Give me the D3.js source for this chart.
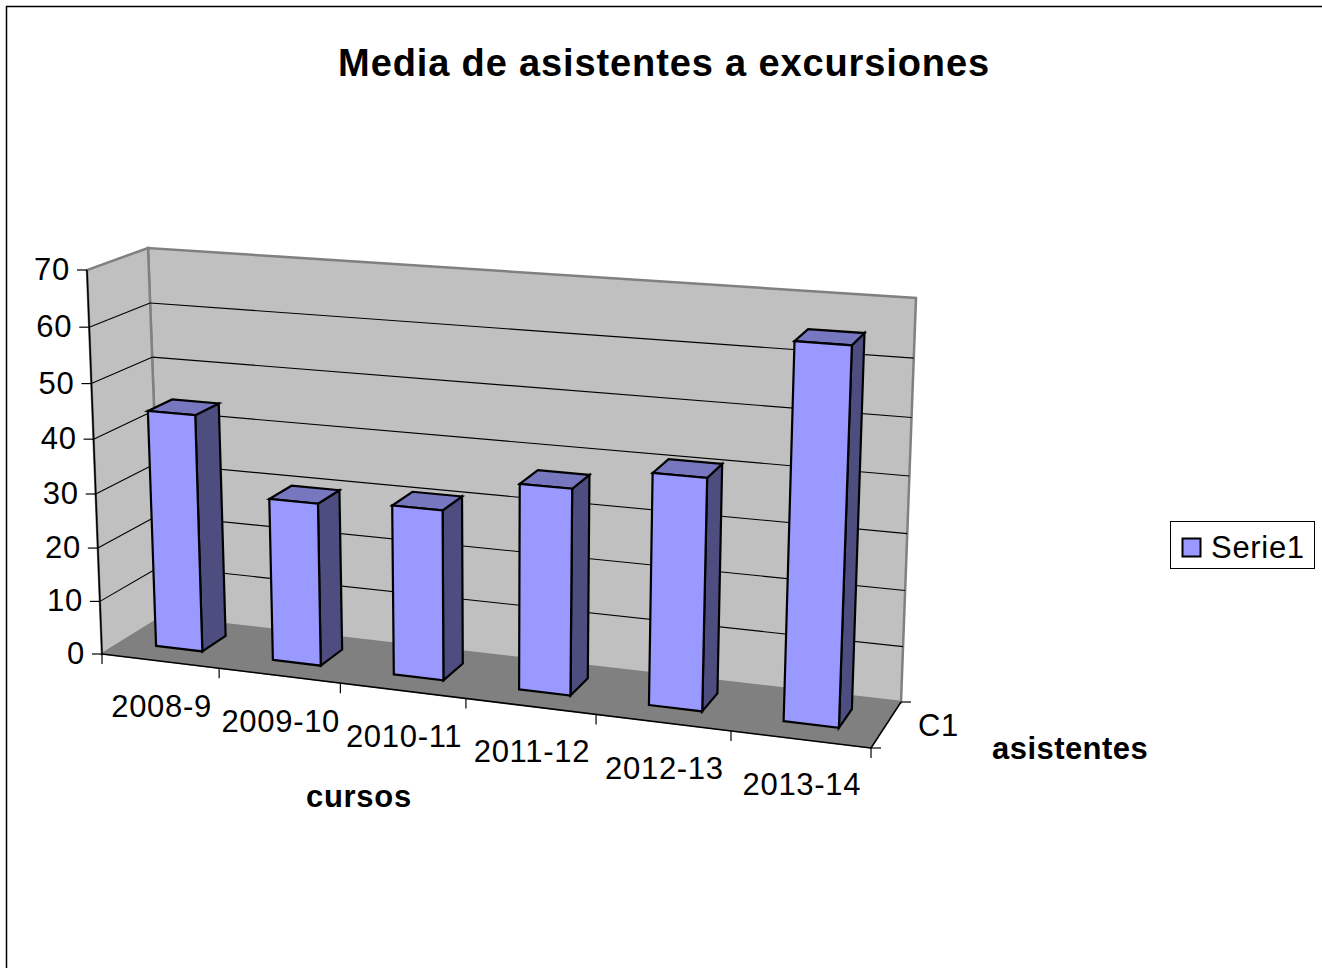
<!DOCTYPE html>
<html>
<head>
<meta charset="utf-8">
<script src="https://cdn.jsdelivr.net/npm/d3@7"></script>
<style>
  html, body { margin: 0; padding: 0; background: #fff; }
  svg { display: block; }
  text { font-family: "Liberation Sans", Arial, sans-serif; fill: #000; letter-spacing: 0.7px; }
</style>
</head>
<body>
<svg id="chart" width="1322" height="968"></svg>
<script>
const categories = ["2008-9", "2009-10", "2010-11", "2011-12", "2012-13", "2013-14"];
const values = [44, 30, 31, 37, 41, 65];
const yTicks = [0, 10, 20, 30, 40, 50, 60, 70];
const seriesName = "Serie1";
const depthLabel = "C1";

const svg = d3.select("#chart");

// corners of the 3d box on screen: front/back, bottom/top, left/right
const corners = {
    fbl: [102, 654], fbr: [871, 748], ftl: [87, 270], ftr: [887, 327],
    bbl: [162, 617], bbr: [901, 702], btl: [148, 248], btr: [916, 298]
};

// perspective makes the far end of each axis a bit shorter
const warp = k => t => t / (t + k * (1 - t));
const warpX = warp(1.113);
const warpY = warp(1.05);

const x = d3.scaleBand().domain(categories).range([0, 1]).paddingInner(0.6).paddingOuter(0.3);
const y = d3.scaleLinear().domain([0, 70]).range([0, 1]);
const z = d3.scaleLinear().domain([0, 1]).range([0, 1]);

const mix = (a, b, t) => [a[0] + (b[0] - a[0]) * t, a[1] + (b[1] - a[1]) * t];

// t along the categories (0-1), v is a value, d is depth (0 front, 1 back)
function project(t, v, d) {
    const s = warpX(t), h = warpY(y(v)), e = z(d);
    const front = mix(mix(corners.fbl, corners.fbr, s), mix(corners.ftl, corners.ftr, s), h);
    const back = mix(mix(corners.bbl, corners.bbr, s), mix(corners.btl, corners.btr, s), h);
    return mix(front, back, e);
}

const poly = pts => pts.map(p => p.join(",")).join(" ");

function face(pts, fill, stroke, width) {
    svg.append("polygon")
        .attr("points", poly(pts))
        .attr("fill", fill)
        .attr("stroke", stroke)
        .attr("stroke-width", width)
        .attr("stroke-linejoin", "miter");
}

function line(a, b, stroke, width) {
    svg.append("line")
        .attr("x1", a[0]).attr("y1", a[1])
        .attr("x2", b[0]).attr("y2", b[1])
        .attr("stroke", stroke)
        .attr("stroke-width", width);
}

// outer frame, runs off the page on the right and the bottom
svg.append("rect")
    .attr("x", 6.5).attr("y", 6.5)
    .attr("width", 1400).attr("height", 1100)
    .attr("fill", "#fff")
    .attr("stroke", "#000")
    .attr("stroke-width", 1.5);

svg.append("text")
    .attr("x", 664).attr("y", 76)
    .attr("text-anchor", "middle")
    .attr("font-size", 38)
    .attr("font-weight", "bold")
    .style("letter-spacing", "0.87px")
    .text("Media de asistentes a excursiones");

// walls and floor
const maxValue = y.domain()[1];
face([project(0, 0, 1), project(1, 0, 1), project(1, maxValue, 1), project(0, maxValue, 1)], "#c0c0c0", "#808080", 2.5);
face([project(0, 0, 0), project(0, 0, 1), project(0, maxValue, 1), project(0, maxValue, 0)], "#c0c0c0", "#808080", 2.5);
face([project(0, 0, 0), project(1, 0, 0), project(1, 0, 1), project(0, 0, 1)], "#808080", "#808080", 1);

// gridlines
yTicks.filter(v => v > 0 && v < maxValue).forEach(v => {
    line(project(0, v, 0), project(0, v, 1), "#000", 1.1);
    line(project(0, v, 1), project(1, v, 1), "#000", 1.1);
});

// bars, front corners at depth 0.33, back at 0.74
const d0 = 0.33, d1 = 0.74;
categories.forEach((c, i) => {
    const a = x(c), b = x(c) + x.bandwidth(), v = values[i];
    face([project(b, 0, d0), project(b, 0, d1), project(b, v, d1), project(b, v, d0)], "#4d4d80", "#000", 2.2);
    face([project(a, v, d0), project(b, v, d0), project(b, v, d1), project(a, v, d1)], "#7777c0", "#000", 2.2);
    face([project(a, 0, d0), project(b, 0, d0), project(b, v, d0), project(a, v, d0)], "#9999ff", "#000", 2.2);
});

// value axis
line(project(0, 0, 0), project(0, maxValue, 0), "#000", 1.5);
yTicks.forEach(v => {
    const p = project(0, v, 0);
    line([p[0] - 10, p[1]], p, "#000", 1.2);
    svg.append("text")
        .attr("x", p[0] - 17).attr("y", p[1] + 10)
        .attr("text-anchor", "end")
        .attr("font-size", 31)
        .text(v);
});

// category axis
line(project(0, 0, 0), project(1, 0, 0), "#000", 1.5);
d3.range(categories.length + 1).forEach(i => {
    const p = project(i / categories.length, 0, 0);
    line(p, [p[0], p[1] + 10], "#000", 1.2);
});
categories.forEach(c => {
    const p = project(x(c) + x.bandwidth() / 2, 0, 0);
    svg.append("text")
        .attr("x", p[0] + 1.5).attr("y", p[1] + 56)
        .attr("text-anchor", "middle")
        .attr("font-size", 31)
        .text(c);
});

// depth axis
line(project(1, 0, 0), project(1, 0, 1), "#000", 1.5);
[0, 1].forEach(d => {
    const p = project(1, 0, d);
    line(p, [p[0] + 10, p[1]], "#000", 1.2);
});
svg.append("text").attr("x", 918).attr("y", 736).attr("font-size", 31).text(depthLabel);

// axis titles
svg.append("text").attr("x", 306).attr("y", 807).attr("font-size", 31).attr("font-weight", "bold").text("cursos");
svg.append("text").attr("x", 992).attr("y", 759).attr("font-size", 31).attr("font-weight", "bold").style("letter-spacing", "0.45px").text("asistentes");

// legend
svg.append("rect")
    .attr("x", 1170.5).attr("y", 521.5)
    .attr("width", 144).attr("height", 47)
    .attr("fill", "#fff").attr("stroke", "#000").attr("stroke-width", 1);
svg.append("rect")
    .attr("x", 1182.5).attr("y", 538.5)
    .attr("width", 18).attr("height", 18)
    .attr("fill", "#9999ff").attr("stroke", "#000").attr("stroke-width", 2);
svg.append("text").attr("x", 1211).attr("y", 558).attr("font-size", 31).text(seriesName);
</script>
</body>
</html>
